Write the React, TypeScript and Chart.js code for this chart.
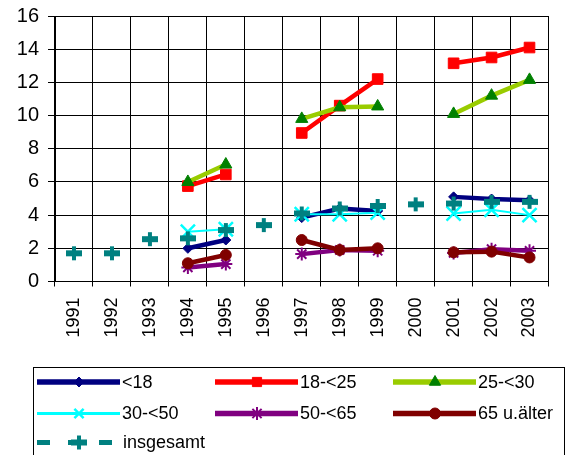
import React, { useEffect, useRef } from 'react';
import { Chart, registerables } from 'chart.js';
import { drawPoint } from 'chart.js/helpers';

Chart.register(...registerables);

// Years on the category axis
const years = ['1991', '1992', '1993', '1994', '1995', '1996', '1997', '1998', '1999', '2000', '2001', '2002', '2003'];

// Rates by age group (null = no survey that year)
const under18 = [null, null, null, 2.0, 2.5, null, 3.85, 4.4, 4.25, null, 5.1, 4.97, 4.9];
const age18to25 = [null, null, null, 5.75, 6.45, null, 8.95, 10.6, 12.2, null, 13.15, 13.5, 14.1];
const age25to30 = [null, null, null, 6.0, 7.05, null, 9.8, 10.5, 10.55, null, 10.1, 11.2, 12.15];
const age30to50 = [null, null, null, 3.0, 3.15, null, 4.05, 4.05, 4.15, null, 4.1, 4.32, 4.0];
const age50to65 = [null, null, null, 0.85, 1.05, null, 1.65, 1.9, 1.85, null, 1.72, 1.95, 1.85];
const age65plus = [null, null, null, 1.1, 1.6, null, 2.5, 1.9, 2.0, null, 1.76, 1.8, 1.45];
const total = [1.7, 1.7, 2.55, 2.6, 3.1, 3.4, 4.1, 4.4, 4.55, 4.65, 4.7, 4.8, 4.8];

const yTicks = [0, 2, 4, 6, 8, 10, 12, 14, 16];

const FONT = 'Arial, "Liberation Sans", sans-serif';

// Plus marker with a wide horizontal bar, used for the overall series
function makePlusMarker(): HTMLCanvasElement {
  const c = document.createElement('canvas');
  c.width = 16;
  c.height = 16;
  const g = c.getContext('2d')!;
  g.fillStyle = '#008080';
  g.fillRect(0, 5, 16, 6);
  g.fillRect(6, 1, 4, 14);
  return c;
}

type Series = {
  label: string;
  data: (number | null)[];
  line: string;
  point: string;
  style: any;
  radius: number;
  width: number;
  pointBorder: number;
  dashed?: boolean;
};

export default function App() {
  const ref = useRef<HTMLCanvasElement | null>(null);

  useEffect(() => {
    if (!ref.current) return;
    const plus = makePlusMarker();

    const series: Series[] = [
      { label: '<18', data: under18, line: '#000080', point: '#000080', style: 'rectRot', radius: 5, width: 4.5, pointBorder: 1 },
      { label: '18-<25', data: age18to25, line: '#FF0000', point: '#FF0000', style: 'rect', radius: 7.5, width: 4.5, pointBorder: 1 },
      { label: '25-<30', data: age25to30, line: '#99CC00', point: '#008000', style: 'triangle', radius: 7, width: 4.5, pointBorder: 1 },
      { label: '30-<50', data: age30to50, line: '#00FFFF', point: '#00FFFF', style: 'crossRot', radius: 10, width: 2, pointBorder: 2.5 },
      { label: '50-<65', data: age50to65, line: '#800080', point: '#800080', style: 'star', radius: 6.5, width: 4.5, pointBorder: 2 },
      { label: '65 u.älter', data: age65plus, line: '#800000', point: '#800000', style: 'circle', radius: 5.5, width: 4.5, pointBorder: 1 },
      { label: 'insgesamt', data: total, line: '#008080', point: '#008080', style: plus, radius: 8, width: 5, pointBorder: 1, dashed: true },
    ];

    const datasets = series.map((s, i) => ({
      label: s.label,
      data: s.data,
      borderColor: s.line,
      backgroundColor: s.point,
      borderWidth: s.width,
      showLine: !s.dashed,
      spanGaps: false,
      pointStyle: s.style,
      pointRadius: s.radius,
      pointBackgroundColor: s.point,
      pointBorderColor: s.point,
      pointBorderWidth: s.pointBorder,
      order: series.length - 1 - i,
    }));

    const legendPlugin = {
      id: 'boxLegend',
      afterDraw(chart: any) {
        const ctx = chart.ctx as CanvasRenderingContext2D;
        ctx.save();
        ctx.strokeStyle = '#000';
        ctx.lineWidth = 1;
        ctx.strokeRect(33.5, 367.5, 531, 100);
        const cols = [37, 215, 393];
        const rows = [382, 413.5, 442.5];
        const lineLen = 83;
        series.forEach((s, i) => {
          const x0 = cols[i % 3];
          const y = rows[Math.floor(i / 3)];
          ctx.save();
          ctx.strokeStyle = s.line;
          ctx.lineWidth = s.dashed ? 5 : Math.max(s.width + 1, 2.5);
          if (s.dashed) ctx.setLineDash([13, 18]);
          ctx.beginPath();
          ctx.moveTo(x0, y);
          ctx.lineTo(x0 + lineLen, y);
          ctx.stroke();
          ctx.restore();
          ctx.save();
          ctx.fillStyle = s.point;
          ctx.strokeStyle = s.point;
          ctx.lineWidth = s.pointBorder;
          drawPoint(ctx, { pointStyle: s.style, rotation: 0, borderWidth: s.pointBorder, radius: typeof s.style === 'string' ? Math.min(s.radius, 6.5) : s.radius } as any, x0 + 42, y);
          ctx.restore();
          ctx.fillStyle = '#000';
          ctx.font = `18px ${FONT}`;
          ctx.textBaseline = 'middle';
          ctx.textAlign = 'left';
          ctx.fillText(s.label, s.dashed ? x0 + 86 : x0 + lineLen + 2, y + 1);
        });
        ctx.restore();
      },
    };

    const chart = new Chart(ref.current, {
      type: 'line',
      data: { labels: years, datasets: datasets as any },
      options: {
        animation: false,
        responsive: false,
        events: [],
        layout: { padding: { top: 16, right: 21.5, left: 0, bottom: 0 } },
        plugins: { legend: { display: false }, tooltip: { enabled: false } },
        scales: {
          x: {
            type: 'category',
            offset: true,
            grid: { offset: true, color: '#000', lineWidth: 1, tickLength: 5, tickColor: '#000' },
            border: { color: '#000', width: 1 },
            ticks: { minRotation: 90, maxRotation: 90, autoSkip: false, padding: 11, color: '#000', font: { family: FONT, size: 18 } },
            afterFit: (s: any) => { s.height = 173.5; s.paddingLeft = 0; s.paddingRight = 0; },
          },
          y: {
            min: yTicks[0],
            max: yTicks[yTicks.length - 1],
            afterBuildTicks: (s: any) => { s.ticks = yTicks.map((v) => ({ value: v })); },
            grid: { color: '#000', lineWidth: 1, tickLength: 7, tickColor: '#000' },
            border: { color: '#000', width: 1 },
            ticks: { padding: 9, color: '#000', font: { family: FONT, size: 20 } },
            afterFit: (s: any) => { s.width = 55; s.paddingTop = 0; s.paddingBottom = 0; },
          },
        },
      },
      plugins: [legendPlugin],
    });
    return () => chart.destroy();
  }, []);

  return (
    <div style={{ position: 'fixed', left: 0, top: 0, width: 570, height: 455, background: '#fff' }}>
      <canvas ref={ref} width={570} height={455} />
    </div>
  );
}
